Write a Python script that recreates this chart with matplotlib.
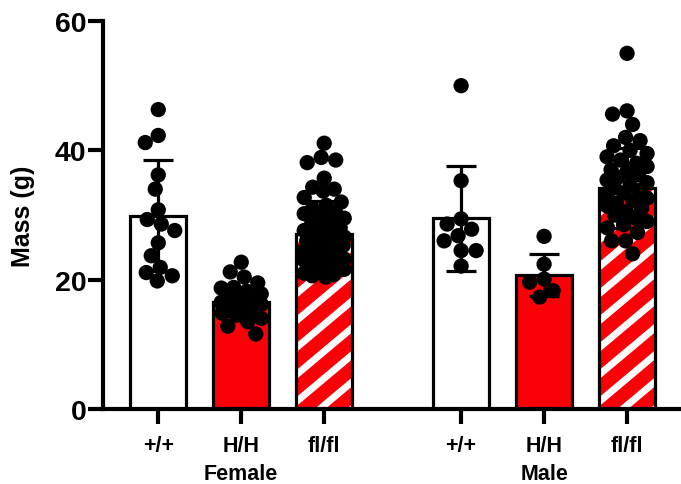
import numpy as np
import matplotlib
matplotlib.use("Agg")
import matplotlib.pyplot as plt
from matplotlib.lines import Line2D
from matplotlib.transforms import IdentityTransform, blended_transform_factory

plt.rcParams['font.family'] = ['Liberation Sans', 'DejaVu Sans']
plt.rcParams['font.weight'] = 'bold'

# data
genotypes = ['+/+', 'H/H', 'fl/fl', '+/+', 'H/H', 'fl/fl']
sexes = ['Female', 'Male']
means = [29.9, 16.5, 27.1, 29.5, 20.7, 34.2]
sds = [8.6, 2.1, 5.0, 8.1, 3.3, 6.2]

female_wt = [46.3, 42.3, 41.2, 36.2, 34.0, 30.8, 29.3, 28.6, 27.6, 25.7,
             23.7, 21.9, 21.1, 20.6, 19.8]
female_hh = [22.7, 21.2, 20.4, 19.5, 18.8, 18.7, 18.2, 17.8, 17.5, 17.0,
             16.8, 16.5, 16.2, 15.8, 15.5, 15.2, 14.8, 14.5, 14.0, 13.5,
             12.8, 11.6]
female_fl = [41.1, 38.9, 38.5, 38.1, 35.7, 34.3, 34.0, 33.7, 32.7, 32.0,
             31.5, 31.0, 30.6, 30.2, 29.8, 29.5, 29.0, 28.7, 28.3, 28.0,
             27.6, 27.3, 27.0, 26.6, 26.3, 26.0, 25.6, 25.5, 25.3, 25.0,
             24.6, 24.5, 24.3, 24.0, 23.6, 23.2, 23.0, 22.8, 22.4, 22.0,
             22.0, 21.6, 21.2, 21.0, 20.8, 20.6, 20.4]
male_wt = [50.0, 35.3, 29.4, 28.6, 27.8, 26.8, 26.0, 24.5, 24.5, 22.1]
male_hh = [26.7, 22.4, 20.1, 19.6, 18.3, 17.3]
male_fl = [55.0, 46.1, 45.6, 44.0, 42.0, 41.5, 40.7, 40.0, 39.5, 39.0,
           38.5, 38.0, 37.5, 37.0, 36.6, 36.2, 35.8, 35.4, 35.0, 34.6,
           34.2, 33.8, 33.4, 33.0, 32.6, 32.2, 31.8, 31.4, 31.0, 30.5,
           30.0, 29.5, 29.0, 28.5, 28.0, 27.3, 26.0, 26.0, 24.0]
groups = [female_wt, female_hh, female_fl, male_wt, male_hh, male_fl]

positions = [0, 1, 2, 3.65, 4.65, 5.65]
bar_styles = ['white', 'red', 'striped', 'white', 'red', 'striped']

RED = '#fb0007'
DOT_PX = 15.3


def swarm_offsets(vals, scale_y, d, maxoff):
    # beeswarm-like placement in pixel space
    vals = np.asarray(vals)
    cands = np.arange(-maxoff, maxoff + 0.25, 0.5)
    cands = cands[np.argsort(np.abs(cands), kind='stable')]
    offs = np.zeros(len(vals))
    placed = []
    for i in np.argsort(-vals):
        y = vals[i] * scale_y
        if placed:
            P = np.array(placed)
            dist = np.sqrt((cands[:, None] - P[None, :, 0]) ** 2
                           + (y - P[None, :, 1]) ** 2).min(axis=1)
            ok = dist >= d
            x = cands[ok][0] if ok.any() else cands[np.argmax(dist)]
        else:
            x = 0.0
        offs[i] = x
        placed.append((x, y))
    return offs


fig = plt.figure(figsize=(6.81, 4.85), dpi=100)
ax = fig.add_axes([103 / 681, 75 / 485, 578 / 681, 388 / 485])
ax.set_xlim(-0.666, 6.30)
ax.set_ylim(0, 60)

for side in ['top', 'right']:
    ax.spines[side].set_visible(False)
for side in ['left', 'bottom']:
    ax.spines[side].set_linewidth(3)

ax.set_yticks([0, 20, 40, 60])
ax.set_xticks(positions)
ax.set_xticklabels(genotypes)
ax.tick_params(axis='y', length=10.5, width=3, labelsize=20.5, pad=1.5)
ax.tick_params(axis='x', length=11, width=3, labelsize=15.5, pad=8)
for lab in ax.get_yticklabels() + ax.get_xticklabels():
    lab.set_fontweight('bold')

ax.set_ylabel('Mass (g)', fontsize=18, fontweight='bold')
ax.yaxis.set_label_coords(-0.118, 0.5)

trans = blended_transform_factory(ax.transData, ax.transAxes)
ax.text(positions[1], -0.180, sexes[0], transform=trans, ha='center',
        va='baseline', fontsize=15.5, fontweight='bold')
ax.text(positions[4], -0.180, sexes[1], transform=trans, ha='center',
        va='baseline', fontsize=15.5, fontweight='bold')

width = 0.67
faces = [('white' if s == 'white' else RED) for s in bar_styles]
fills = ax.bar(positions, means, width=width, color=faces, edgecolor='none',
               linewidth=0, zorder=1)
ax.bar(positions, means, width=width, facecolor='none', edgecolor='black',
       linewidth=2.3, zorder=2)

# white diagonal stripes inside the striped bars
angle = np.deg2rad(40)
spacing = 27.0
for patch, style in zip(fills, bar_styles):
    if style != 'striped':
        continue
    bb = patch.get_window_extent()
    rise = bb.width * np.tan(angle)
    ext = 5 * np.tan(angle)
    y = bb.y0 - rise
    while y < bb.y1 + spacing:
        ln = Line2D([bb.x0 - 5, bb.x1 + 5], [y - ext, y + rise + ext],
                    color='white', linewidth=5, transform=IdentityTransform(),
                    zorder=1.5, solid_capstyle='butt')
        ln.set_clip_path(patch)
        ax.add_line(ln)
        y += spacing

ax.errorbar(positions, means, yerr=sds, fmt='none', ecolor='black',
            elinewidth=2.3, capsize=11, capthick=2.3, zorder=3)

p0 = ax.transData.transform((0, 0))
p1 = ax.transData.transform((1, 1))
px_x = p1[0] - p0[0]
px_y = p1[1] - p0[1]
for pos, vals in zip(positions, groups):
    offs = swarm_offsets(vals, px_y, DOT_PX * 0.95, 20)
    ax.scatter(pos + offs / px_x, vals, s=(DOT_PX * 0.72) ** 2, color='black',
               edgecolors='none', zorder=4, clip_on=False)

fig.savefig('out.png', dpi=100)
